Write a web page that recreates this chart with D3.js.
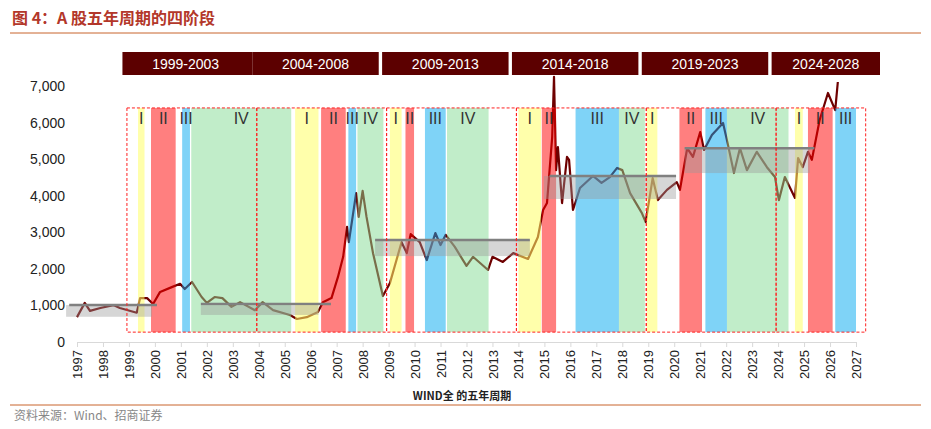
<!DOCTYPE html>
<html><head><meta charset="utf-8">
<script src="https://cdn.jsdelivr.net/npm/d3@7"></script>
<style>body{margin:0;background:#fff;font-family:"Liberation Sans",Arial,sans-serif}</style>
</head><body>
<svg width="931" height="429"></svg>
<script>
const svg = d3.select('svg');

// index path (year, value)
var years = [1997.0,1997.3,1997.5,1997.9,1998.4,1998.65,1999.3,1999.43,1999.7,1999.93,2000.2,2000.65,2000.97,2001.15,2001.43,2001.8,2002.0,2002.3,2002.6,2002.95,2003.28,2003.85,2004.15,2004.55,2005.2,2005.47,2005.85,2006.28,2006.47,2006.8,2007.05,2007.25,2007.4,2007.47,2007.75,2007.85,2008.0,2008.15,2008.4,2008.78,2009.05,2009.5,2009.7,2009.85,2010.2,2010.47,2010.8,2011.0,2011.2,2011.55,2012.0,2012.25,2012.83,2013.0,2013.4,2013.8,2014.37,2014.75,2014.95,2015.1,2015.3,2015.37,2015.45,2015.52,2015.68,2015.87,2015.95,2016.1,2016.37,2016.87,2017.2,2017.52,2017.8,2018.0,2018.3,2018.75,2018.9,2019.17,2019.37,2019.72,2020.1,2020.22,2020.5,2020.72,2021.0,2021.15,2021.45,2021.88,2022.07,2022.3,2022.53,2022.8,2023.18,2023.57,2023.88,2024.03,2024.26,2024.65,2024.77,2024.95,2025.15,2025.3,2025.6,2025.92,2026.2,2026.3];
var values = [680,1070,850,930,1010,930,800,1200,1200,1040,1370,1500,1590,1450,1640,1230,1070,1230,1200,960,1090,870,1090,870,740,630,680,820,1090,1200,1780,2330,3150,2730,4070,3420,4130,3420,2430,1260,1610,2730,2430,2950,2730,2240,2980,2650,2930,2600,2080,2330,1970,2330,2190,2430,2270,2870,3610,3800,5600,7250,4700,5330,3800,5060,4980,3610,4210,4540,4350,4510,4760,4700,4070,3530,3280,4480,3880,4160,4370,4160,5300,5060,5740,5250,5660,5990,5390,4620,5300,4700,5200,4780,4510,3880,4510,3940,5030,4780,5200,4980,6070,6810,6340,7110];

// phase bands: start, end, phase
var bandStart = [1999.35,1999.85,2001.05,2001.4,2005.4,2006.4,2007.45,2007.8,2009.05,2009.65,2010.4,2011.25,2014.0,2014.9,2016.2,2017.87,2018.95,2020.2,2021.2,2022.03,2024.65,2025.15,2026.2];
var bandEnd   = [1999.6,2000.8,2001.35,2005.25,2006.3,2007.35,2007.75,2008.8,2009.5,2009.98,2011.2,2012.85,2014.87,2015.45,2017.87,2018.87,2019.35,2021.07,2022.03,2024.4,2024.95,2026.1,2027.0];
var bandPhase = ["I","II","III","IV","I","II","III","IV","I","II","III","IV","I","II","III","IV","I","II","III","IV","I","II","III"];

// five-year cycles
var cycleStart = [1999,2004,2009,2014,2019,2024];
var cycleEnd = [2004,2009,2014,2019,2024,2027.45];
var cycleLabels = ["1999-2003","2004-2008","2009-2013","2014-2018","2019-2023","2024-2028"];

// consolidation ranges
var rangeStart = [1996.58,2001.77,2008.48,2014.98,2020.4];
var rangeEnd = [1999.89,2006.3,2014.44,2020.07,2025.22];
var rangeLow = [690,740,2350,3910,4620];
var rangeHigh = [1010,1000,2790,4540,5300];
var lineStart = [1996.7,2001.77,2008.48,2015.2,2020.4];
var lineEnd = [2000.08,2006.78,2014.44,2020.07,2025.4];
var lineLevel = [1010,1040,2790,4540,5300];

var yTicks = [0,1000,2000,3000,4000,5000,6000,7000];
var xTicks = d3.range(1997, 2028);

var phaseColor = {I:"#ffff66", II:"#ff0000", III:"#00a8f0", IV:"#84dc94"};
var phaseOpacity = {I:0.55, II:0.5, III:0.5, IV:0.5};

var x = d3.scaleLinear().domain([1997, 2027]).range([77, 856]);
var y = d3.scaleLinear().domain([0, 7000]).range([342, 86]);

// title
svg.append("text").attr("x",12).attr("y",24).attr("fill","#b3372a")
  .style("font-size","16px").style("font-weight","bold")
  .style("font-family","'Noto Sans CJK SC',sans-serif").text("图 4：A 股五年周期的四阶段");
svg.append("line").attr("x1",10).attr("x2",921).attr("y1",33).attr("y2",33)
  .attr("stroke","#c8642c").attr("stroke-width",1);

// line
svg.append("path")
  .datum(years.map((d,i)=>[d, values[i]]))
  .attr("fill","none").attr("stroke","#6e0000").attr("stroke-width",2.2)
  .attr("stroke-linejoin","round")
  .attr("d", d3.line().x(d=>x(d[0])).y(d=>y(d[1])));

// bands over line
svg.append("g").selectAll("rect").data(bandPhase).enter().append("rect")
  .attr("x",(d,i)=>x(bandStart[i]))
  .attr("width",(d,i)=>x(bandEnd[i])-x(bandStart[i]))
  .attr("y",y(6400)).attr("height",y(270)-y(6400))
  .attr("fill",d=>phaseColor[d]).attr("opacity",d=>phaseOpacity[d]);

svg.append("g").selectAll("text").data(bandPhase).enter().append("text")
  .attr("x",(d,i)=>(x(bandStart[i])+x(bandEnd[i]))/2)
  .attr("y",124).attr("text-anchor","middle")
  .attr("fill","#333").style("font-size","16px").text(d=>d);

// consolidation ranges
svg.append("g").selectAll("rect").data(rangeStart).enter().append("rect")
  .attr("x",(d,i)=>x(d)).attr("width",(d,i)=>x(rangeEnd[i])-x(d))
  .attr("y",(d,i)=>y(rangeHigh[i])).attr("height",(d,i)=>y(rangeLow[i])-y(rangeHigh[i]))
  .attr("fill","#999").attr("opacity",0.4);
svg.append("g").selectAll("line").data(lineLevel).enter().append("line")
  .attr("x1",(d,i)=>x(lineStart[i])).attr("x2",(d,i)=>x(lineEnd[i]))
  .attr("y1",d=>y(d)).attr("y2",d=>y(d))
  .attr("stroke","#808080").attr("stroke-width",2.5);

// cycle boxes
svg.append("g").selectAll("rect").data(cycleStart).enter().append("rect")
  .attr("x",(d,i)=>x(d)-2).attr("width",(d,i)=>x(cycleEnd[i])-x(d))
  .attr("y",y(6400)).attr("height",y(270)-y(6400))
  .attr("fill","none").attr("stroke","#ff2020").attr("stroke-width",1)
  .attr("stroke-dasharray","3,2");

// cycle headers (first two share one bar)
function hx0(i){ return x(cycleStart[i]-0.25); }
function hx1(i){ return Math.min(x(cycleStart[i]+4.62), 880); }
svg.append("g").selectAll("rect").data(cycleStart).enter().append("rect")
  .attr("x",(d,i)=>hx0(i))
  .attr("width",(d,i)=>(i==0 ? hx0(1) : hx1(i)) - hx0(i))
  .attr("y",52).attr("height",23).attr("fill","#5c0000");
svg.append("g").selectAll("text").data(cycleLabels).enter().append("text")
  .attr("x",(d,i)=>(hx0(i)+hx1(i))/2)
  .attr("y",69).attr("text-anchor","middle").attr("fill","#fff")
  .style("font-size","14px").text(d=>d);

// axes
var xAxis = svg.append("g").attr("transform","translate(0,342)")
  .call(d3.axisBottom(x).tickValues(xTicks).tickFormat(d3.format("d")).tickSize(5));
xAxis.select(".domain").attr("stroke","#d9d9d9");
xAxis.selectAll(".tick line").attr("stroke","#d9d9d9");
xAxis.selectAll("text").attr("transform","rotate(-90)").attr("text-anchor","end")
  .attr("x",-8).attr("y",0).attr("dy","0.35em").attr("fill","#222").style("font-size","13px");

var yAxis = svg.append("g").attr("transform","translate(68,0)")
  .call(d3.axisLeft(y).tickValues(yTicks).tickFormat(d3.format(",")).tickSize(0));
yAxis.select(".domain").remove();
yAxis.selectAll("text").attr("fill","#222").style("font-size","14px");

svg.append("text").attr("x",462).attr("y",400).attr("text-anchor","middle")
  .style("font-size","11px").style("font-weight","bold").attr("fill","#222")
  .style("font-family","'Noto Sans CJK SC',monospace").text("WIND全 的五年周期");

svg.append("line").attr("x1",10).attr("x2",921).attr("y1",405).attr("y2",405)
  .attr("stroke","#c8642c").attr("stroke-width",1);
svg.append("text").attr("x",14).attr("y",420).attr("fill","#888")
  .style("font-size","12px").style("font-family","'Noto Sans CJK SC',sans-serif")
  .text("资料来源：Wind、招商证券");
</script>
</body></html>
